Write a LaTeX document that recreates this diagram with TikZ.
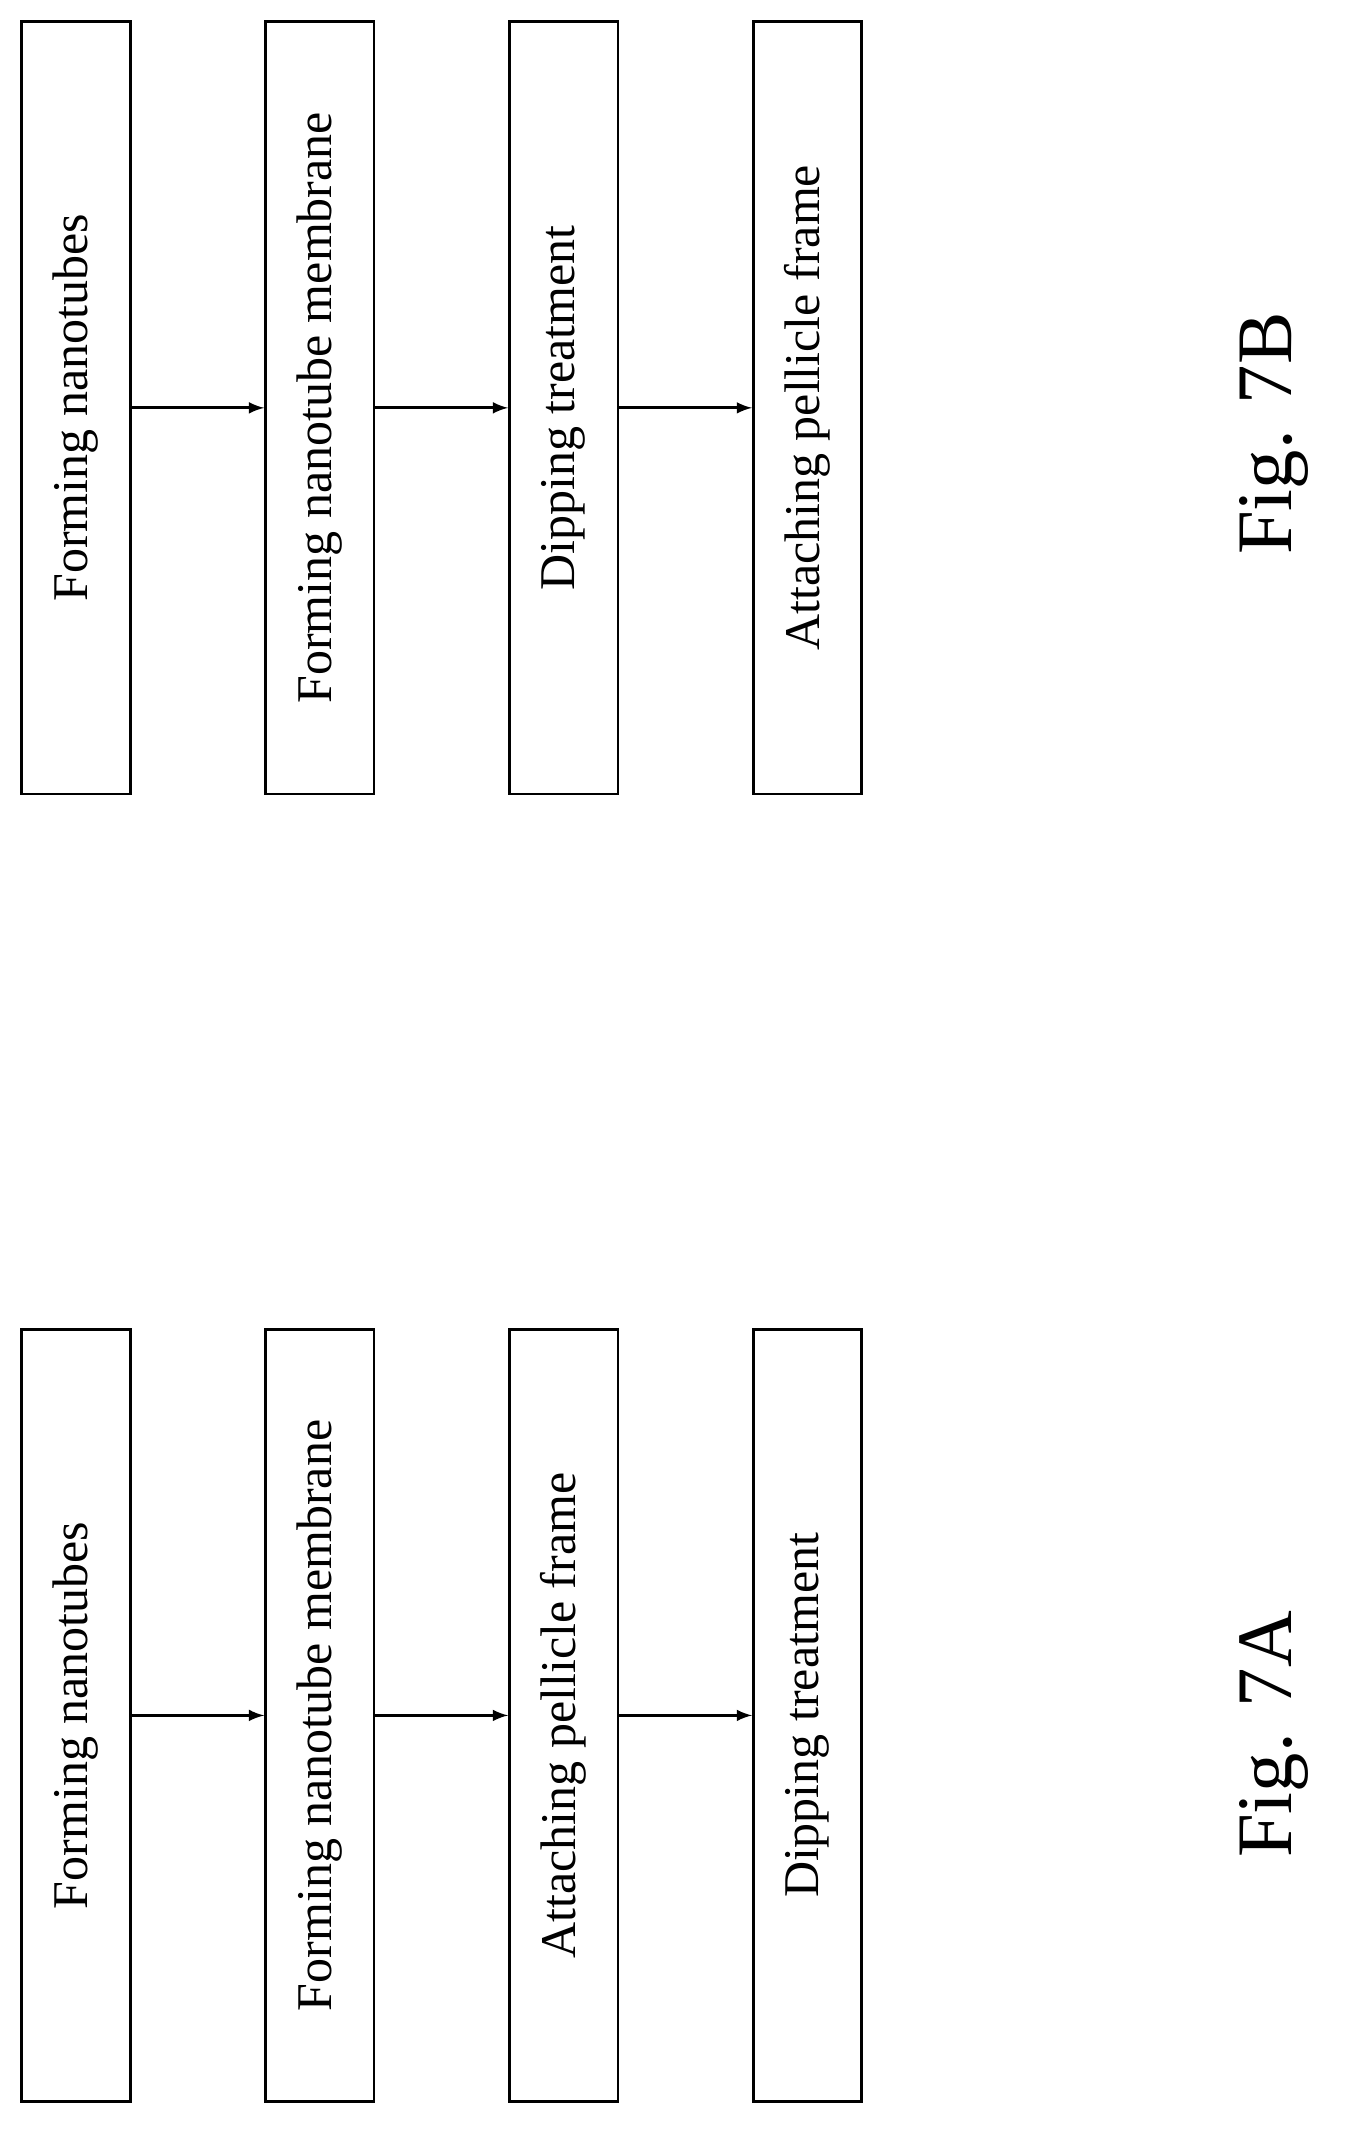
\documentclass[tikz,border=0pt]{standalone}
\usepackage{fontspec}
\setmainfont{Liberation Serif}
\usetikzlibrary{arrows}
\begin{document}
\begin{tikzpicture}[x=0.02cm,y=-0.02cm,
      stepbox/.style={draw, line width=1.2pt, minimum width=1.6cm, minimum height=11.4cm,
        inner sep=0pt, anchor=north west, font=\fontsize{21}{25}\selectfont},
      normal/.style={line width=1.2pt, ->, >=latex},
      figlabel/.style={rotate=90, font=\fontsize{33}{38}\selectfont}
      ]
      \useasboundingbox (0,0) rectangle (1000,1586);
      % Fig. 7B
      \node[stepbox] (Bone) at (15,15) {\rotatebox{90}{Forming nanotubes}};
      \node[stepbox] (Btwo) at (195,15) {\rotatebox{90}{Forming nanotube membrane}};
      \node[stepbox] (Bthree) at (375,15) {\rotatebox{90}{Dipping treatment}};
      \node[stepbox] (Bfour) at (555,15) {\rotatebox{90}{Attaching pellicle frame}};
      \draw[normal] (Bone.east) -- (Btwo.west);
      \draw[normal] (Btwo.east) -- (Bthree.west);
      \draw[normal] (Bthree.east) -- (Bfour.west);
      \node[figlabel] (FigB) at (940,320) {Fig. 7B};

      % Fig. 7A
      \node[stepbox] (Aone) at (15,980) {\rotatebox{90}{Forming nanotubes}};
      \node[stepbox] (Atwo) at (195,980) {\rotatebox{90}{Forming nanotube membrane}};
      \node[stepbox] (Athree) at (375,980) {\rotatebox{90}{Attaching pellicle frame}};
      \node[stepbox] (Afour) at (555,980) {\rotatebox{90}{Dipping treatment}};
      \draw[normal] (Aone.east) -- (Atwo.west);
      \draw[normal] (Atwo.east) -- (Athree.west);
      \draw[normal] (Athree.east) -- (Afour.west);
      \node[figlabel] (FigA) at (940,1280) {Fig. 7A};
    \end{tikzpicture}
\end{document}
